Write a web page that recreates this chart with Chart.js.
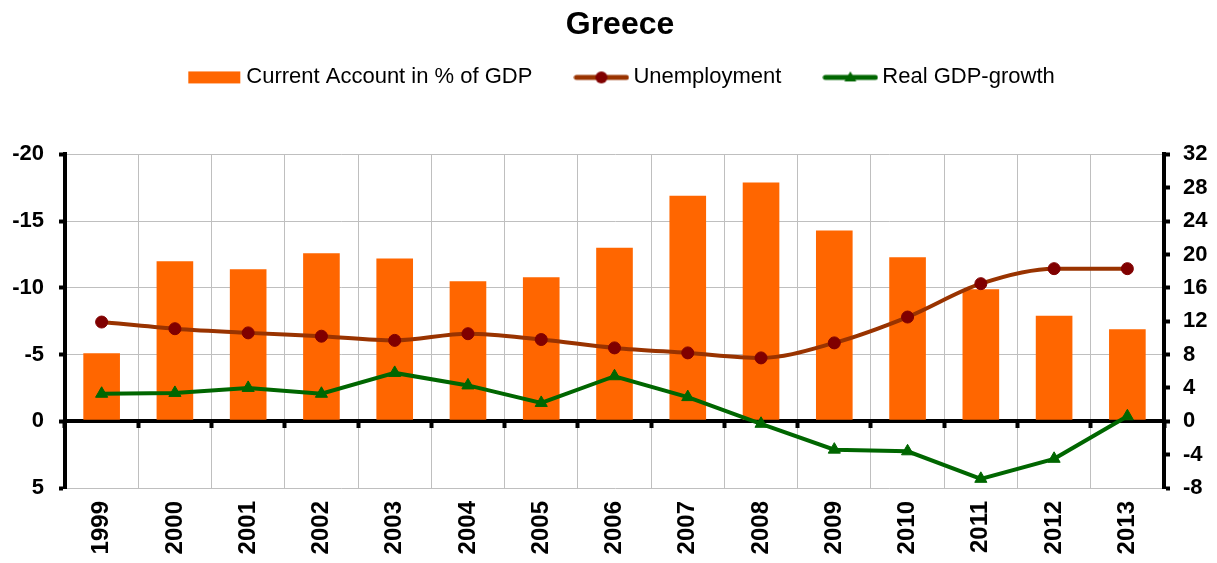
<!DOCTYPE html>
<html>
<head>
<meta charset="utf-8">
<title>Greece</title>
<script src="https://cdn.jsdelivr.net/npm/chart.js@4.4.1/dist/chart.umd.min.js"></script>
<style>
  html, body { margin: 0; padding: 0; background: #fff; }
  #wrap { width: 1217px; height: 563px; }
</style>
</head>
<body>
<div id="wrap"><canvas id="graphic"></canvas></div>
<script>
const years = ['1999', '2000', '2001', '2002', '2003', '2004', '2005', '2006', '2007', '2008', '2009', '2010', '2011', '2012', '2013']
const currentAccount = [-5.1, -12.0, -11.4, -12.6, -12.2, -10.5, -10.8, -13.0, -16.9, -17.9, -14.3, -12.3, -9.9, -7.9, -6.9]
const unemployment = [11.9, 11.1, 10.6, 10.2, 9.7, 10.5, 9.8, 8.8, 8.2, 7.6, 9.4, 12.5, 16.5, 18.3, 18.3]
const gdpGrowth = [3.3, 3.4, 4.0, 3.3, 5.8, 4.3, 2.2, 5.4, 2.9, -0.3, -3.4, -3.6, -6.9, -4.5, 0.6]
const leftTicks = [-20, -15, -10, -5, 0, 5]
const rightTicks = [32, 28, 24, 20, 16, 12, 8, 4, 0, -4, -8]

const ORANGE = '#FF6600'
const BROWN = '#993300'
const DARKRED = '#800000'
const GREEN = '#006600'
const GRID = '#BFBFBF'
const FONT = "'Liberation Sans', Arial, sans-serif"

// iconos de la leyenda: caja naranja, linea con circulo, linea con triangulo
const legendIcon = (draw) => {
  const c = document.createElement('canvas')
  c.width = 56
  c.height = 16
  draw(c.getContext('2d'))
  return c
}

const iconBar = legendIcon(ctx => {
  ctx.fillStyle = ORANGE
  ctx.fillRect(2, 2, 52, 12)
})

const iconLine = (color, marker, shape) => legendIcon(ctx => {
  ctx.strokeStyle = color
  ctx.lineWidth = 5
  ctx.lineCap = 'round'
  ctx.beginPath()
  ctx.moveTo(3, 8)
  ctx.lineTo(53, 8)
  ctx.stroke()
  ctx.fillStyle = marker
  ctx.beginPath()
  if (shape === 'circle') {
    ctx.arc(28, 8, 6, 0, Math.PI * 2)
  } else {
    ctx.moveTo(28, 2)
    ctx.lineTo(34, 12)
    ctx.lineTo(22, 12)
    ctx.closePath()
  }
  ctx.fill()
})

const legendIcons = [iconBar, iconLine(BROWN, DARKRED, 'circle'), iconLine(GREEN, GREEN, 'triangle')]

const ajusteCabecera = {
  id: 'ajusteCabecera',
  beforeInit(chart) {
    const fit = chart.legend.fit
    chart.legend.fit = function () {
      fit.call(this)
      this.height += 56
    }
  },
  afterLayout(chart) {
    chart.legend.left += 10
    chart.legend.right += 10
    chart.titleBlock.left += 6
    chart.titleBlock.right += 6
  }
}

const setTicks = (values) => (scale) => {
  scale.ticks = values.map(v => ({ value: v }))
}

const renderGrafico = () => {
  const ctx = document.querySelector('#graphic').getContext('2d')

  new Chart(ctx, {
    type: 'bar',
    data: {
      labels: years,
      datasets: [
        {
          type: 'bar',
          label: 'Current Account in % of GDP',
          data: currentAccount,
          backgroundColor: ORANGE,
          borderWidth: 0,
          categoryPercentage: 0.5,
          barPercentage: 1,
          xAxisID: 'x',
          yAxisID: 'y',
          order: 3
        },
        {
          type: 'line',
          label: 'Unemployment',
          data: unemployment,
          borderColor: BROWN,
          borderWidth: 4,
          cubicInterpolationMode: 'monotone',
          pointStyle: 'circle',
          pointRadius: 6,
          pointBackgroundColor: DARKRED,
          pointBorderColor: DARKRED,
          pointBorderWidth: 1,
          xAxisID: 'x',
          yAxisID: 'y2',
          order: 2
        },
        {
          type: 'line',
          label: 'Real GDP-growth',
          data: gdpGrowth,
          borderColor: GREEN,
          borderWidth: 4,
          tension: 0,
          pointStyle: 'triangle',
          pointRadius: 7,
          pointBackgroundColor: GREEN,
          pointBorderColor: GREEN,
          pointBorderWidth: 1,
          xAxisID: 'x',
          yAxisID: 'y2',
          order: 1
        }
      ]
    },
    options: {
      responsive: true,
      maintainAspectRatio: false,
      animation: false,
      layout: { padding: { left: 11, right: 0, top: 0, bottom: 0 } },
      plugins: {
        tooltip: { enabled: false },
        title: {
          display: true,
          text: 'Greece',
          color: '#000',
          font: { family: FONT, size: 32, weight: 'bold' },
          padding: { top: 6, bottom: -26 }
        },
        legend: {
          display: true,
          labels: {
            color: '#000',
            font: { family: FONT, size: 22 },
            usePointStyle: true,
            pointStyleWidth: 42,
            padding: 48,
            generateLabels: (chart) => chart.data.datasets.map((ds, i) => ({
              text: ds.label,
              pointStyle: legendIcons[i],
              fillStyle: 'transparent',
              strokeStyle: 'transparent',
              lineWidth: 0,
              hidden: false,
              datasetIndex: i
            }))
          }
        }
      },
      scales: {
        x: {
          type: 'category',
          position: 'bottom',
          offset: true,
          afterFit: (scale) => { scale.height = 75 },
          grid: { offset: true, color: GRID, lineWidth: 1, drawTicks: false },
          border: { display: false },
          ticks: {
            color: '#000',
            font: { family: FONT, size: 24, weight: 'bold' },
            minRotation: 90,
            maxRotation: 90,
            autoSkip: false,
            padding: 13
          }
        },
        x2: {
          type: 'category',
          axis: 'x',
          position: { y: 0 },
          offset: true,
          grid: { offset: true, drawOnChartArea: false, drawTicks: true, tickLength: 5, tickWidth: 4, tickColor: '#000' },
          border: { display: true, color: '#000', width: 4 },
          ticks: { display: false }
        },
        y: {
          type: 'linear',
          position: 'left',
          reverse: true,
          min: -20,
          max: 5,
          afterBuildTicks: setTicks(leftTicks),
          afterFit: (scale) => { scale.width = 54 },
          grid: {
            color: (c) => c.tick && c.tick.value === 0 ? '#000' : GRID,
            lineWidth: (c) => c.tick && c.tick.value === 0 ? 3 : 1,
            tickColor: '#000',
            tickLength: 6,
            tickWidth: 4
          },
          border: { color: '#000', width: 4 },
          ticks: {
            color: '#000',
            font: { family: FONT, size: 22, weight: 'bold' },
            padding: 15
          }
        },
        y2: {
          type: 'linear',
          position: 'right',
          min: -8,
          max: 32,
          afterBuildTicks: setTicks(rightTicks),
          afterFit: (scale) => { scale.width = 53 },
          grid: { drawOnChartArea: false, tickColor: '#000', tickLength: 6, tickWidth: 4 },
          border: { color: '#000', width: 4 },
          ticks: {
            color: '#000',
            font: { family: FONT, size: 22, weight: 'bold' },
            padding: 13
          }
        }
      }
    },
    plugins: [ajusteCabecera]
  })
}

renderGrafico()
</script>
</body>
</html>
